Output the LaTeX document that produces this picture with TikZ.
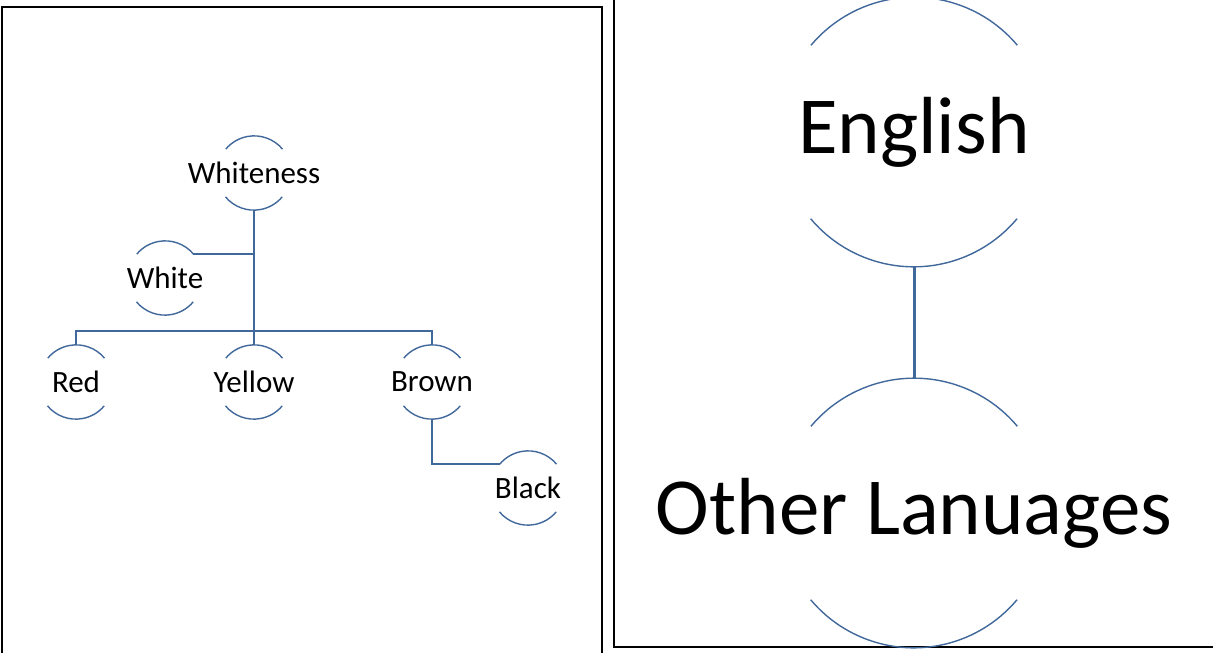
\documentclass[tikz,border=0pt]{standalone}
\usepackage{fontspec}
\setmainfont{Carlito}
\usepackage{tikz}

\definecolor{rimblue}{RGB}{65,104,155}

\begin{document}
\begin{tikzpicture}[x=1pt, y=-1pt,
        bubble/.style={circle, minimum size=2*\rs, inner sep=0pt, font=\fontsize{31}{37}\selectfont},
        bigbubble/.style={circle, minimum size=2*\rb, inner sep=0pt, font=\fontsize{81}{97}\selectfont},
        rim/.style={rimblue, line width=1.4pt},
        link/.style={rimblue, line width=1.7pt},
        frame/.style={black, line width=1.5pt}]
        \def\rs{37}
        \def\rb{134.7}
        \useasboundingbox (0,0) rectangle (1213,653);
        \clip (0,0) rectangle (1213,653);
        \draw[frame] (2,670) -- (2,7) -- (602,7) -- (602,670);
        \draw[frame] (614,-20) -- (614,647) -- (1230,647);
        % colour tree
        \node[bubble] (whiteness) at (254,173) {\makebox[0pt]{Whiteness}};
        \node[bubble] (white) at (165,278) {\makebox[0pt]{White}};
        \node[bubble] (red) at (76,382) {\makebox[0pt]{Red}};
        \node[bubble] (yellow) at (254,382) {\makebox[0pt]{Yellow}};
        \node[bubble] (brown) at (432,382) {\makebox[0pt]{Brown}};
        \node[bubble] (black) at (528,488) {\makebox[0pt]{Black}};
        % y runs downwards, so the arc angles are mirrored
        \foreach \n in {whiteness,white,red,yellow,brown,black}
            \draw[rim] (\n.40) arc[start angle=-40, end angle=-140, radius=\rs]
                       (\n.220) arc[start angle=140, end angle=40, radius=\rs];
        \coordinate (bus) at (254,331);
        \draw[link] (whiteness.south) |- (white.40);
        \draw[link] (whiteness.south) -- (yellow.north);
        \draw[link] (red.north) |- (bus) -| (brown.north);
        \draw[link] (brown.south) |- (black.140);
        % languages
        \node[bigbubble] (english) at (914,132) {\makebox[0pt]{English}};
        \node[bigbubble] (other) at (914,513) {\makebox[0pt]{Other Lanuages}};
        \foreach \n in {english,other}
            \draw[rim] (\n.40) arc[start angle=-40, end angle=-140, radius=\rb]
                       (\n.220) arc[start angle=140, end angle=40, radius=\rb];
        \draw[rimblue, line width=3pt] (english.south) -- (other.north);
\end{tikzpicture}
\end{document}
